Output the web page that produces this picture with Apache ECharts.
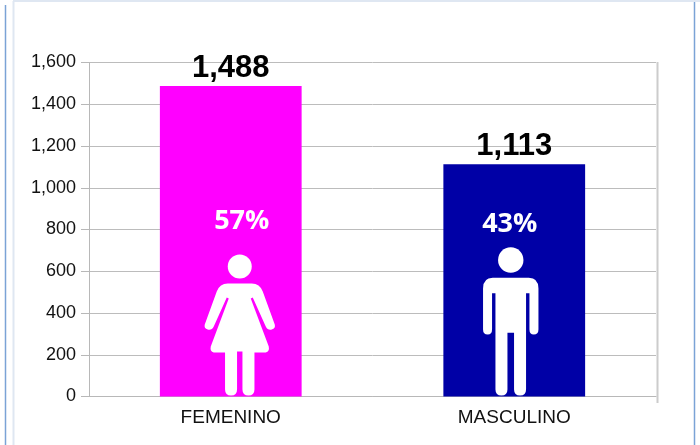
<!DOCTYPE html>
<html>
<head>
<meta charset="utf-8">
<style>
html, body { margin: 0; padding: 0; background: #fff; }
#chart { width: 700px; height: 445px; }
</style>
<script src="https://cdn.jsdelivr.net/npm/echarts@6/dist/echarts.min.js"></script>
</head>
<body>
<div id="chart"></div>
<script>
var categories = ['FEMENINO', 'MASCULINO'];
var totals = [1488, 1113];
var percents = ['57%', '43%'];
var barColors = ['#ff00ff', '#0000a6'];

// pictogram outlines, origin at the feet, relative to the bar base
var womanBody = 'M-12,-113 L12,-113 Q20,-113 23,-105 L35,-72 Q36,-68 32,-67 Q28,-66 26,-70 L13,-99 L11,-98 L29,-50 Q30,-45 26,-44 L14.7,-44 L14.7,-7 Q14.7,-1 8.7,-1 Q2.7,-1 2.7,-7 L2.7,-45 L-2.7,-45 L-2.7,-7 Q-2.7,-1 -8.7,-1 Q-14.7,-1 -14.7,-7 L-14.7,-44 L-26,-44 Q-30,-45 -29,-50 L-11,-98 L-13,-99 L-26,-70 Q-28,-66 -32,-67 Q-36,-68 -35,-72 L-23,-105 Q-20,-113 -12,-113 Z';
var manBody = 'M-18,-118.7 L18,-118.7 Q27.7,-118.7 27.7,-108 L27.7,-67 Q27.7,-62 23,-62 Q18.7,-62 18.7,-67 L18.7,-103.3 L15.3,-103.3 L15.3,-7 Q15.3,-1 9.3,-1 Q3.3,-1 3.3,-7 L3.3,-63.7 L-3.3,-63.7 L-3.3,-7 Q-3.3,-1 -9.3,-1 Q-15.3,-1 -15.3,-7 L-15.3,-103.3 L-18.7,-103.3 L-18.7,-67 Q-18.7,-62 -23,-62 Q-27.7,-62 -27.7,-67 L-27.7,-108 Q-27.7,-118.7 -18,-118.7 Z';
var icons = [
	{body: womanBody, headY: -130, headR: 12, dx: 9, textDx: 11, textY: -175.5, x: -36, y: -113, w: 72, h: 112},
	{body: manBody, headY: -136.5, headR: 12.7, dx: -3.5, textDx: -4.5, textY: -172.5, x: -27.7, y: -118.7, w: 55.4, h: 117.7}
];

var myChart = echarts.init(document.getElementById('chart'));

function renderIcon(params, api) {
	var i = api.value(0);
	var base = api.coord([i, 0]);
	var icon = icons[i];
	return {
		type: 'group',
		x: base[0],
		y: base[1],
		children: [
			{
				type: 'circle',
				x: icon.dx,
				shape: {cx: 0, cy: icon.headY, r: icon.headR},
				style: {fill: '#fff'}
			},
			{
				type: 'path',
				x: icon.dx,
				shape: {
					pathData: icon.body,
					layout: 'center',
					x: icon.x,
					y: icon.y,
					width: icon.w,
					height: icon.h
				},
				style: {fill: '#fff'}
			},
			{
				type: 'text',
				x: icon.textDx,
				y: icon.textY,
				style: {
					text: percents[i],
					fill: '#fff',
					font: 'bold 27px "Open Sans"',
					align: 'center',
					verticalAlign: 'middle'
				}
			}
		]
	};
}

var option = {
	animation: false,
	backgroundColor: '#fff',
	grid: {left: 89, right: 44, top: 62.5, bottom: 48.5},
	xAxis: {
		type: 'category',
		data: categories,
		axisLine: {lineStyle: {color: '#b8b8b8', width: 1}},
		axisTick: {length: 6, lineStyle: {color: '#b8b8b8'}},
		axisLabel: {
			color: '#111',
			fontFamily: 'Liberation Sans',
			fontSize: 19,
			margin: 12
		}
	},
	yAxis: {
		type: 'value',
		min: 0,
		max: 1600,
		interval: 200,
		axisLine: {show: true, lineStyle: {color: '#b8b8b8', width: 1}},
		axisTick: {show: true, length: 8, lineStyle: {color: '#b8b8b8'}},
		splitLine: {lineStyle: {color: '#bcbcbc', width: 1}},
		axisLabel: {
			color: '#111',
			fontFamily: 'Liberation Sans',
			fontSize: 18,
			margin: 13,
			padding: [4, 0, 0, 0]
		}
	},
	series: [
		{
			type: 'bar',
			barWidth: '50%',
			data: totals.map(function (v, i) {
				return {value: v, itemStyle: {color: barColors[i]}};
			}),
			label: {
				show: true,
				position: 'top',
				distance: 2,
				color: '#000',
				fontFamily: 'Liberation Sans',
				fontWeight: 'bold',
				fontSize: 31,
				formatter: function (p) {
					return p.value.toLocaleString('en-US');
				}
			}
		},
		{
			type: 'custom',
			renderItem: renderIcon,
			data: [[0], [1]],
			encode: {x: 0},
			z: 5,
			silent: true
		}
	],
	graphic: [
		{type: 'line', shape: {x1: 657.5, y1: 62, x2: 657.5, y2: 403}, style: {stroke: '#cccccc', lineWidth: 2}},
		{type: 'line', shape: {x1: 5.5, y1: 5, x2: 5.5, y2: 445}, style: {stroke: '#7ba3d6', lineWidth: 1.5}},
		{type: 'line', shape: {x1: 13.5, y1: 1, x2: 13.5, y2: 445}, style: {stroke: '#dfe7f2', lineWidth: 2}},
		{type: 'line', shape: {x1: 13, y1: 1, x2: 700, y2: 1}, style: {stroke: '#dfe7f2', lineWidth: 2}},
		{type: 'line', shape: {x1: 694.5, y1: 2, x2: 694.5, y2: 445}, style: {stroke: '#7ba3d6', lineWidth: 1.5}}
	]
};

myChart.setOption(option);
</script>
</body>
</html>
